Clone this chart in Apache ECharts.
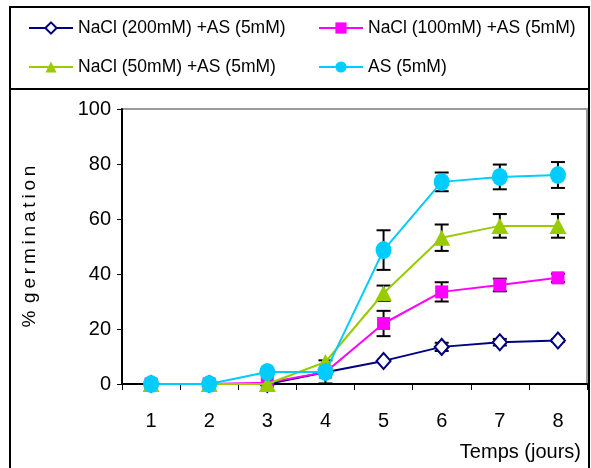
<!DOCTYPE html>
<html><head><meta charset="utf-8">
<script src="https://cdn.jsdelivr.net/npm/echarts@6/dist/echarts.min.js"></script>
<style>html,body{margin:0;padding:0;background:#fff}#c{width:591px;height:468px}</style>
</head><body><div id="c"></div>
<script>
const categories = ['1','2','3','4','5','6','7','8'];
const seriesNames = ['NaCl (200mM) +AS (5mM)','NaCl (100mM) +AS (5mM)','NaCl (50mM) +AS (5mM)','AS (5mM)'];
const nacl200 = [0, 0, 0, 4.3, 8.4, 13.5, 15.2, 15.8];
const nacl100 = [0, 0, 0.5, 4.3, 22, 33.5, 36, 38.6];
const nacl50  = [0, 0, 0, 8, 33, 53.2, 57.5, 57.5];
const as5     = [0, 0, 4.4, 4.4, 48.7, 73.5, 75.3, 76];
const err200  = [0, 0, 0, 0, 0, 1.5, 1.2, 0.5];
const err100  = [0, 0, 0, 0, 4.6, 3.5, 2.3, 1.5];
const err50   = [0, 0, 0, 0, 2.8, 4.8, 4.3, 4.3];
const errAS   = [0, 0, 0, 4.2, 7.2, 3.4, 4.5, 4.7];
const yTicks = [0, 20, 40, 60, 80, 100];

const colors = ['#000080', '#ff00ff', '#99cc00', '#00ccff'];
const values = [nacl200, nacl100, nacl50, as5];
const errs = [err200, err100, err50, errAS];
const symbols = ['diamond', 'rect', 'triangle', 'circle'];
const symSizes = [[14,16], [13,13], [17,16], [16,18]];
const FONT = '"Liberation Sans", Arial, sans-serif';

const series = [];
const errData = [];
values.forEach((v, s) => v.forEach((y, i) => { if (errs[s][i] > 0) errData.push([i, y, errs[s][i]]); }));
series.push({
  type: 'custom', z: 1, silent: true,
  renderItem: function (params, api) {
    const x = api.value(0), y = api.value(1), e = api.value(2);
    const top = api.coord([x, y + e]);
    const bot = api.coord([x, y - e]);
    const hw = 7;
    const st = { stroke: '#000', lineWidth: 2 };
    return { type: 'group', children: [
      { type: 'line', shape: { x1: top[0], y1: top[1], x2: bot[0], y2: bot[1] }, style: st },
      { type: 'line', shape: { x1: top[0]-hw, y1: top[1], x2: top[0]+hw, y2: top[1] }, style: st },
      { type: 'line', shape: { x1: bot[0]-hw, y1: bot[1], x2: bot[0]+hw, y2: bot[1] }, style: st }
    ]};
  },
  data: errData
});
values.forEach((v, s) => {
  series.push({
    name: seriesNames[s], type: 'line', data: v, z: 2 + s,
    symbol: symbols[s], symbolSize: symSizes[s], showAllSymbol: true,
    lineStyle: { color: colors[s], width: 2 },
    itemStyle: s === 0 ? { color: '#fff', borderColor: colors[s], borderWidth: 2 } : { color: colors[s], borderWidth: 0 },
    emphasis: { disabled: true }, animation: false
  });
});

const legendPos = [[28, 19], [318, 19], [28, 58], [318, 58]];
const legends = seriesNames.map((n, i) => ({
  data: [n], left: legendPos[i][0], top: legendPos[i][1], itemWidth: 44, itemHeight: 14,
  itemGap: 0, padding: 0, selectedMode: false,
  textStyle: { fontFamily: FONT, fontSize: 17.5, color: '#000' }
}));

const chart = echarts.init(document.getElementById('c'), null, { renderer: 'canvas' });
chart.setOption({
  animation: false,
  backgroundColor: '#fff',
  legend: legends,
  grid: { left: 122, right: 4, top: 109, bottom: 84, show: true, borderColor: '#9a9a9a', borderWidth: 2, backgroundColor: 'transparent' },
  xAxis: {
    type: 'category', data: categories, boundaryGap: true,
    name: 'Temps (jours)', nameLocation: 'end', nameGap: 0,
    nameTextStyle: { fontFamily: FONT, fontSize: 20, color: '#000', align: 'right', verticalAlign: 'top', padding: [58, 6, 0, 0] },
    axisLine: { lineStyle: { color: '#000', width: 2 } },
    axisTick: { show: true, alignWithLabel: false, length: 6, lineStyle: { color: '#000', width: 1 } },
    axisLabel: { fontFamily: FONT, fontSize: 20, color: '#000', margin: 27 },
    splitLine: { show: false }
  },
  yAxis: {
    type: 'value', min: 0, max: 100, interval: 20,
    name: '%\u2009\u2009g\u2009e\u2009r\u2009m\u2009i\u2009n\u2009a\u2009t\u2009i\u2009o\u2009n', nameLocation: 'middle', nameGap: 83, nameRotate: 90,
    nameTextStyle: { fontFamily: FONT, fontSize: 19, color: '#000' },
    axisLine: { show: true, lineStyle: { color: '#000', width: 2 } },
    axisTick: { show: true, inside: false, length: 5, lineStyle: { color: '#000', width: 1 } },
    axisLabel: { fontFamily: FONT, fontSize: 20, color: '#000', margin: 11,
      formatter: v => yTicks.indexOf(v) >= 0 ? String(v) : '' },
    splitLine: { show: false }
  },
  graphic: [
    { type: 'rect', shape: { x: 10, y: 7, width: 579, height: 470 }, style: { fill: 'none', stroke: '#000', lineWidth: 2 }, silent: true, z: 10 },
    { type: 'line', shape: { x1: 10, y1: 89, x2: 589, y2: 89 }, style: { stroke: '#000', lineWidth: 2 }, silent: true, z: 10 }
  ],
  series: series
});
</script></body></html>
